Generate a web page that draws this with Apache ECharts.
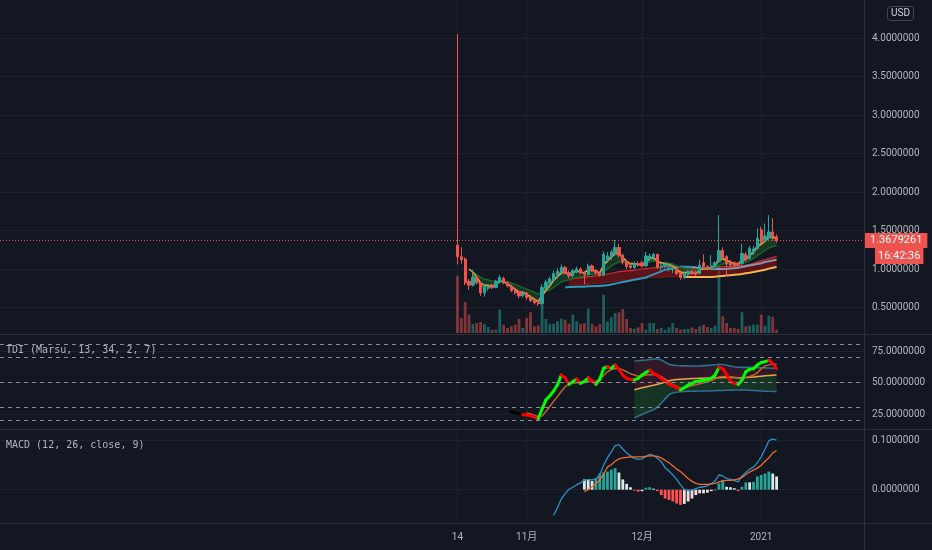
<!DOCTYPE html>
<html><head><meta charset="utf-8">
<script src="https://cdn.jsdelivr.net/npm/echarts@6/dist/echarts.min.js"></script>
<style>html,body{margin:0;padding:0;background:#131722;}#c{width:932px;height:550px;}</style>
</head><body><div id="c"></div>
<script>
// ---------- axis / categories ----------
const firstDay = '2020-10-14';
const tickDates = ['2020-10-14', '2020-11-01', '2020-12-01', '2021-01-01'];
const tickTexts = ['14', '11月', '12月', '2021'];
const lastPrice = 1.3679261;
const countdown = '16:42:36';

// ---------- daily candles (Oct 14 2020 -> Jan 5 2021) ----------
const open  = [1.31,1.16,1.13,0.84,0.79,0.89,0.81,0.69,0.75,0.78,0.76,0.83,0.88,0.82,0.78,0.72,0.70,0.65,0.69,0.63,0.59,0.57,0.55,0.75,0.82,0.86,0.93,0.96,1.02,0.95,0.91,0.97,1.00,0.95,0.93,1.04,0.98,0.95,0.92,1.12,1.16,1.21,1.28,1.18,1.09,1.04,1.02,1.07,1.08,1.04,1.13,1.16,1.19,1.02,1.04,1.03,0.99,1.00,0.94,0.89,0.93,0.97,0.95,0.94,1.08,1.03,1.00,1.04,1.10,1.24,1.16,1.08,1.08,1.07,1.07,1.19,1.14,1.22,1.27,1.51,1.38,1.41,1.48,1.42];
const high  = [4.05,1.28,1.15,0.87,0.99,0.92,0.83,0.79,0.80,0.81,0.86,0.92,0.90,0.84,0.80,0.76,0.72,0.71,0.70,0.66,0.62,0.60,0.80,0.86,0.90,0.98,1.01,1.06,1.04,0.98,1.00,1.03,1.02,0.97,1.07,1.06,1.00,0.97,1.23,1.22,1.25,1.38,1.33,1.20,1.12,1.08,1.10,1.10,1.11,1.22,1.20,1.21,1.20,1.06,1.09,1.06,1.03,1.02,0.96,0.97,0.99,0.99,0.98,1.12,1.19,1.05,1.18,1.10,1.70,1.28,1.18,1.12,1.10,1.09,1.33,1.22,1.30,1.30,1.53,1.55,1.59,1.70,1.66,1.45];
const low   = [1.06,1.07,0.79,0.73,0.77,0.80,0.65,0.64,0.72,0.74,0.75,0.81,0.80,0.76,0.70,0.67,0.62,0.63,0.60,0.57,0.54,0.52,0.54,0.72,0.78,0.83,0.88,0.92,0.93,0.88,0.89,0.94,0.93,0.80,0.92,0.96,0.93,0.90,0.91,1.08,1.12,1.18,1.15,1.06,1.00,1.00,1.00,1.03,1.02,1.03,1.10,1.11,1.00,0.98,1.01,0.97,0.95,0.92,0.86,0.87,0.91,0.92,0.91,0.93,1.01,0.98,0.99,1.02,1.08,1.12,0.90,1.02,1.02,1.03,1.05,1.10,1.12,1.18,1.25,1.33,1.35,1.38,1.37,1.34];
const close = [1.16,1.12,0.82,0.79,0.89,0.82,0.69,0.76,0.78,0.76,0.84,0.89,0.82,0.78,0.72,0.69,0.65,0.69,0.63,0.59,0.56,0.55,0.76,0.83,0.87,0.94,0.97,1.02,0.95,0.91,0.98,1.00,0.95,0.93,1.04,0.98,0.95,0.92,1.19,1.17,1.22,1.28,1.18,1.09,1.03,1.02,1.07,1.05,1.04,1.17,1.17,1.19,1.02,1.04,1.06,1.04,1.01,0.94,0.89,0.94,0.97,0.94,0.93,1.05,1.03,1.00,1.04,1.08,1.24,1.15,1.07,1.05,1.04,1.05,1.20,1.13,1.27,1.26,1.40,1.36,1.43,1.48,1.42,1.3679261];
const volume = [573,150,310,183,90,100,110,90,60,33,33,233,83,50,67,83,140,50,150,207,67,77,440,140,93,93,117,143,133,93,183,117,93,100,243,93,67,90,383,117,157,200,207,240,140,50,43,57,100,33,100,100,40,50,33,57,100,50,33,40,40,57,40,67,83,60,50,73,670,167,100,50,50,40,207,67,73,83,83,183,73,173,160,33];

// ---------- moving-average ribbons on the price pane ----------
const orangeLine = [null,null,null,1.00,0.96,0.90,0.82,0.79,0.79,0.78,0.80,0.84,0.83,0.81,0.77,0.74,0.70,0.70,0.67,0.64,0.61,0.58,0.65,0.72,0.78,0.85,0.90,0.95,0.95,0.93,0.95,0.97,0.96,0.95,0.99,0.98,0.97,0.95,1.05,1.10,1.15,1.20,1.19,1.15,1.10,1.07,1.07,1.06,1.05,1.10,1.13,1.15,1.10,1.08,1.07,1.06,1.04,1.00,0.96,0.95,0.96,0.95,0.94,0.99,1.00,1.00,1.02,1.04,1.12,1.13,1.11,1.09,1.07,1.06,1.12,1.12,1.18,1.21,1.29,1.32,1.36,1.41,1.41,1.40];
const greenFast = [null,null,null,null,0.92,0.87,0.78,0.77,0.775,0.77,0.80,0.85,0.83,0.81,0.76,0.73,0.69,0.69,0.66,0.62,0.59,0.57,0.67,0.75,0.81,0.87,0.92,0.97,0.96,0.94,0.96,0.98,0.96,0.95,1.00,0.99,0.97,0.94,1.07,1.12,1.17,1.22,1.20,1.15,1.09,1.05,1.06,1.06,1.05,1.11,1.14,1.16,1.09,1.07,1.06,1.05,1.03,0.99,0.94,0.94,0.95,0.95,0.94,0.99,1.01,1.01,1.02,1.05,1.15,1.15,1.11,1.08,1.06,1.06,1.13,1.13,1.20,1.23,1.31,1.34,1.38,1.43,1.43,1.40];
const greenSlow = [null,null,null,null,0.95,0.93,0.89,0.87,0.86,0.845,0.84,0.85,0.845,0.835,0.82,0.80,0.78,0.76,0.74,0.72,0.70,0.675,0.69,0.71,0.73,0.76,0.795,0.83,0.85,0.86,0.875,0.89,0.90,0.905,0.925,0.935,0.935,0.935,0.97,1.00,1.035,1.07,1.09,1.09,1.08,1.07,1.07,1.065,1.06,1.08,1.09,1.105,1.095,1.085,1.08,1.075,1.065,1.045,1.02,1.01,1.005,0.995,0.985,0.995,1.00,1.00,1.005,1.015,1.05,1.065,1.065,1.065,1.06,1.06,1.08,1.085,1.11,1.135,1.175,1.205,1.24,1.275,1.295,1.305];
const redHi = [null,null,null,null,null,null,null,null,null,null,null,null,null,null,null,null,null,null,null,null,null,null,null,null,null,null,null,null,null,0.87,0.875,0.88,0.885,0.89,0.90,0.905,0.91,0.915,0.925,0.935,0.945,0.955,0.965,0.97,0.975,0.98,0.985,0.99,1.0,1.005,1.01,1.015,1.02,1.025,1.03,1.03,1.03,1.03,1.025,1.02,1.015,1.01,1.01,1.01,1.01,1.01,1.01,1.015,1.025,1.03,1.03,1.03,1.035,1.04,1.045,1.05,1.06,1.075,1.09,1.105,1.12,1.135,1.15,1.16];
const redLo = [null,null,null,null,null,null,null,null,null,null,null,null,null,null,null,null,null,null,null,null,null,null,null,null,null,null,null,null,null,0.79,0.79,0.795,0.795,0.80,0.80,0.805,0.81,0.815,0.82,0.83,0.835,0.84,0.85,0.855,0.86,0.865,0.87,0.875,0.88,0.885,0.89,0.89,0.895,0.895,0.90,0.90,0.90,0.90,0.90,0.90,0.90,0.90,0.90,0.90,0.90,0.90,0.90,0.905,0.91,0.915,0.92,0.925,0.93,0.935,0.94,0.95,0.955,0.965,0.975,0.985,0.995,1.01,1.02,1.03];
const blueLine = [null,null,null,null,null,null,null,null,null,null,null,null,null,null,null,null,null,null,null,null,null,null,null,null,null,null,null,null,0.76,0.765,0.765,0.77,0.77,0.77,0.775,0.775,0.78,0.78,0.785,0.79,0.80,0.81,0.82,0.83,0.84,0.85,0.86,0.87,0.88,0.89,0.91,0.93,0.95,0.97,0.99,1.00,1.01,1.02,1.03,1.03,1.03,1.025,1.02,1.01,1.01,1.0,1.0,1.0,1.0,1.0,1.0,1.005,1.01,1.015,1.025,1.035,1.045,1.055,1.065,1.075,1.09,1.10,1.11,1.12];
const yellowLine = [null,null,null,null,null,null,null,null,null,null,null,null,null,null,null,null,null,null,null,null,null,null,null,null,null,null,null,null,null,null,null,null,null,null,null,null,null,null,null,null,null,null,null,null,null,null,null,null,null,null,null,null,null,null,null,null,null,null,null,0.895,0.895,0.895,0.895,0.895,0.895,0.895,0.895,0.90,0.905,0.91,0.915,0.92,0.925,0.93,0.935,0.945,0.95,0.96,0.97,0.98,0.99,1.005,1.015,1.025];

// ---------- TDI (Marsu, 13, 34, 2, 7) ----------
const tdiPrice = [null,null,null,null,null,null,null,null,null,null,null,null,null,null,27.0,26.0,25.3,24.5,24.3,23.6,22.6,21.2,29.0,36.1,39.3,43.3,48.0,55.9,53.8,48.5,50.7,52.8,49.3,50.7,53.8,51.2,48.5,52.5,61.2,62.5,61.2,63.9,60.5,55.9,53.3,52.5,52.0,53.3,55.9,57.9,59.8,57.2,55.9,53.3,50.7,48.5,47.5,45.9,44.1,45.9,48.0,49.3,50.7,51.2,51.8,52.3,53.3,55.9,62.0,61.0,56.5,50.7,49.3,48.5,52.0,58.5,60.4,61.0,63.9,65.8,66.5,67.6,65.2,61.2];
const tdiSignal = [null,null,null,null,null,null,null,null,null,null,null,null,null,null,null,null,null,null,25.8,25.0,24.0,22.8,23.5,27.0,31.0,35.0,38.8,43.0,46.5,48.8,49.3,49.8,50.3,50.7,50.8,50.7,50.7,53.0,55.5,58.5,60.2,61.0,61.2,60.0,58.5,57.0,55.9,55.0,55.0,55.9,56.2,56.4,55.8,54.6,52.6,50.6,48.4,46.8,45.4,45.6,46.5,47.5,48.2,49.0,49.8,50.5,51.6,53.0,54.4,54.8,54.7,54.6,54.0,53.5,53.3,54.0,54.8,55.7,57.8,60.8,63.2,64.0,64.4,64.5];
const bbUp = [null,null,null,null,null,null,null,null,null,null,null,null,null,null,null,null,null,null,null,null,null,null,null,null,null,null,null,null,null,null,null,null,null,null,null,null,null,null,null,null,null,null,null,null,null,null,67.1,67.3,67.6,67.9,68.3,68.6,68.7,67.8,66.2,64.5,63.8,63.5,63.3,63.2,63.1,63.1,63.1,63.2,63.4,63.6,63.8,64.1,64.4,64.3,63.7,63.0,62.5,62.1,62.0,62.0,62.0,61.9,61.8,61.7,61.6,61.5,61.3,61.2];
const bbMid = [null,null,null,null,null,null,null,null,null,null,null,null,null,null,null,null,null,null,null,null,null,null,null,null,null,null,null,null,null,null,null,null,null,null,null,null,null,null,null,null,null,null,null,null,null,null,44.3,45.0,45.8,46.5,47.2,47.9,48.6,49.4,50.4,51.4,52.0,52.4,52.6,52.8,53.0,53.1,53.2,53.3,53.4,53.5,53.6,53.7,53.8,53.9,53.9,53.9,53.9,53.8,53.8,53.9,54.1,54.4,54.7,55.0,55.3,55.6,55.8,55.9];
const bbLo = [null,null,null,null,null,null,null,null,null,null,null,null,null,null,null,null,null,null,null,null,null,null,null,null,null,null,null,null,null,null,null,null,null,null,null,null,null,null,null,null,null,null,null,null,null,null,22.1,23.3,24.6,25.9,27.1,28.4,30.5,33.5,37.0,40.2,41.6,42.2,42.7,42.9,43.0,43.1,43.1,43.2,43.3,43.3,43.4,43.5,43.6,43.7,43.8,43.9,44.0,44.1,44.1,44.0,43.9,43.7,43.5,43.3,43.1,43.0,42.9,42.8];
const tdiLevels = [80, 70, 50, 30, 20];

// ---------- MACD (12, 26, close, 9) ----------
const macdLine = [null,null,null,null,null,null,null,null,null,null,null,null,null,null,null,null,null,null,null,null,null,null,null,null,null,-0.052,-0.037,-0.019,-0.008,0.001,0.005,0.010,0.014,0.019,0.021,0.020,0.022,0.030,0.050,0.065,0.077,0.090,0.092,0.083,0.075,0.069,0.064,0.062,0.063,0.068,0.072,0.070,0.064,0.057,0.045,0.038,0.030,0.021,0.010,0.000,-0.002,-0.001,0.002,0.005,0.006,0.008,0.012,0.018,0.030,0.028,0.023,0.021,0.019,0.016,0.028,0.035,0.042,0.046,0.055,0.067,0.083,0.100,0.103,0.101];
const macdSignal = [null,null,null,null,null,null,null,null,null,null,null,null,null,null,null,null,null,null,null,null,null,null,null,null,null,null,null,null,null,null,null,null,null,-0.004,0.000,0.006,0.012,0.020,0.032,0.046,0.051,0.058,0.063,0.065,0.066,0.067,0.067,0.067,0.067,0.068,0.069,0.069,0.068,0.065,0.060,0.055,0.049,0.042,0.037,0.030,0.023,0.017,0.013,0.011,0.011,0.011,0.012,0.013,0.016,0.018,0.019,0.019,0.020,0.022,0.025,0.031,0.036,0.040,0.044,0.050,0.058,0.065,0.075,0.080];
const macdHist = [null,null,null,null,null,null,null,null,null,null,null,null,null,null,null,null,null,null,null,null,null,null,null,null,null,null,null,null,null,null,null,null,null,0.021,0.020,0.018,0.023,0.033,0.035,0.037,0.041,0.044,0.035,0.021,0.012,0.005,-0.002,-0.004,-0.003,0.004,0.005,0.002,-0.003,-0.011,-0.018,-0.021,-0.024,-0.028,-0.031,-0.029,-0.024,-0.018,-0.011,-0.0075,-0.0075,-0.006,-0.003,-0.001,0.013,0.020,0.006,0.005,0.003,-0.003,0.006,0.015,0.015,0.016,0.027,0.030,0.033,0.037,0.033,0.027];

// ---------- build ----------
const N = 226, padBefore = 119;
const base = Date.UTC(2020, 9, 14);
const categories = [];
for (let i = 0; i < N; i++) categories.push(new Date(base + (i - padBefore) * 86400000).toISOString().slice(0, 10));
const xi = k => padBefore + k;
const pts = arr => arr.map((v, k) => v == null ? null : [xi(k), v]).filter(Boolean);
const diffPts = (hi, lo) => hi.map((v, k) => (v == null || lo[k] == null) ? null : [xi(k), +(v - lo[k]).toFixed(5)]).filter(Boolean);
const greenHi = greenFast.map((v, k) => v == null ? null : Math.max(v, greenSlow[k]));
const greenLo = greenFast.map((v, k) => v == null ? null : Math.min(v, greenSlow[k]));
const blueA = blueLine.map((v, k) => k <= 61 ? v : null);
const blueB = blueLine.map((v, k) => k >= 61 ? v : null);

const UP = '#26a69a', DOWN = '#ef5350';
const candleData = open.map((o, k) => [xi(k), o, close[k], low[k], high[k]]);
const volData = volume.map((v, k) => ({ value: [xi(k), v], itemStyle: { color: close[k] >= open[k] ? 'rgba(38,166,154,0.5)' : 'rgba(239,83,80,0.5)' } }));

const segColors = ['#000000', '#00ff00', '#ff0000'];
const tdiSegs = [];
for (let k = 1; k < tdiPrice.length; k++) {
  if (tdiPrice[k] == null || tdiPrice[k - 1] == null) continue;
  const code = tdiSignal[k] == null ? 0 : (tdiPrice[k] >= tdiPrice[k - 1] ? 1 : 2);
  tdiSegs.push([xi(k), tdiPrice[k - 1], tdiPrice[k], code]);
}

const histData = [];
let prevH = null;
macdHist.forEach((h, k) => {
  if (h == null) return;
  const p = prevH == null ? h : prevH;
  let c;
  if (h >= 0) c = h > p ? '#26a69a' : '#d8ece7';
  else c = h < p ? '#ff5252' : '#f3dede';
  histData.push({ value: [xi(k), h], itemStyle: { color: c } });
  prevH = h;
});

const axisFont = 'Roboto, "Noto Sans CJK JP", sans-serif';
const gridLine = '#1e222d';
const hiddenX = g => ({ gridIndex: g, type: 'category', data: categories, boundaryGap: false, show: false });
const rightY = (g, min, max, interval) => ({
  gridIndex: g, type: 'value', position: 'right', min, max, interval,
  axisLine: { show: false }, axisTick: { show: false },
  axisLabel: { color: '#b2b5be', fontSize: 10, fontFamily: axisFont, margin: 7, showMinLabel: false, showMaxLabel: false, formatter: v => v.toFixed(7) },
  splitLine: { show: true, showMinLine: false, showMaxLine: false, lineStyle: { color: gridLine, width: 1 } }
});
const line = (name, data, xa, ya, color, width, z, extra) => Object.assign({
  name, type: 'line', data, xAxisIndex: xa, yAxisIndex: ya, symbol: 'none', showSymbol: false, silent: true,
  lineStyle: { color, width }, z: z || 3
}, extra || {});

const option = {
  backgroundColor: '#131722',
  animation: false,
  title: [
    { text: 'TDI (Marsu, 13, 34, 2, 7)', left: 6, top: 345, padding: 0, textStyle: { fontFamily: '"DejaVu Sans Mono", monospace', fontSize: 10, fontWeight: 'normal', color: '#b2b5be' } },
    { text: 'MACD (12, 26, close, 9)', left: 6, top: 440, padding: 0, textStyle: { fontFamily: '"DejaVu Sans Mono", monospace', fontSize: 10, fontWeight: 'normal', color: '#b2b5be' } },
    { text: 'USD', left: 887, top: 6, padding: [3, 4, 2, 4], borderColor: '#434651', borderWidth: 1, borderRadius: 3, textStyle: { fontFamily: axisFont, fontSize: 10, fontWeight: 'normal', color: '#d1d4dc' } }
  ],
  graphic: [
    { type: 'line', shape: { x1: 0, y1: 334.5, x2: 932, y2: 334.5 }, style: { stroke: '#2a2e39', lineWidth: 1 }, silent: true, z: 10 },
    { type: 'line', shape: { x1: 0, y1: 429.5, x2: 932, y2: 429.5 }, style: { stroke: '#2a2e39', lineWidth: 1 }, silent: true, z: 10 },
    { type: 'line', shape: { x1: 0, y1: 523.5, x2: 932, y2: 523.5 }, style: { stroke: '#2a2e39', lineWidth: 1 }, silent: true, z: 10 },
    { type: 'line', shape: { x1: 864.5, y1: 0, x2: 864.5, y2: 550 }, style: { stroke: '#2a2e39', lineWidth: 1 }, silent: true, z: 10 }
  ],
  grid: [
    { left: 0, right: 67, top: 0, height: 346 },
    { left: 0, right: 67, top: 133, height: 200 },
    { left: 0, right: 67, top: 319.5, height: 126 },
    { left: 0, right: 67, top: 416.2, height: 122.5 },
    { left: 0, right: 67, top: 0, height: 523 }
  ],
  xAxis: [
    hiddenX(0), hiddenX(1), hiddenX(2), hiddenX(3),
    { gridIndex: 4, type: 'category', data: categories, boundaryGap: false,
      axisLine: { show: false }, axisTick: { show: false },
      axisLabel: { interval: (i, v) => tickDates.includes(v), formatter: v => tickTexts[tickDates.indexOf(v)], color: '#b2b5be', fontSize: 10, fontFamily: axisFont, margin: 9 },
      splitLine: { show: true, interval: (i, v) => tickDates.includes(v), lineStyle: { color: gridLine, width: 1 } } }
  ],
  yAxis: [
    rightY(0, 0, 346 / 77, 0.5),
    { gridIndex: 1, type: 'value', min: 0, max: 2000, show: false },
    rightY(2, 0, 100, 25),
    rightY(3, -0.1, 0.15, 0.1),
    { gridIndex: 4, type: 'value', show: false }
  ],
  series: [
    // volume
    { name: 'Volume', type: 'bar', xAxisIndex: 1, yAxisIndex: 1, data: volData, barWidth: 2.8, silent: true, z: 1 },
    // long-term red ribbon
    line('redBase', pts(redLo), 0, 0, 'transparent', 0, 2, { stack: 'red', lineStyle: { opacity: 0 } }),
    line('redFill', diffPts(redHi, redLo), 0, 0, 'transparent', 0, 2, { stack: 'red', lineStyle: { opacity: 0 }, areaStyle: { color: 'rgba(140,16,20,0.85)' } }),
    line('redHi', pts(redHi), 0, 0, '#d32f2f', 1.2),
    line('redLo', pts(redLo), 0, 0, '#7a1414', 1.2),
    line('blueA', pts(blueA), 0, 0, '#2f97be', 2),
    line('blueB', pts(blueB), 0, 0, '#8796ab', 2),
    line('yellow', pts(yellowLine), 0, 0, '#f2b24f', 2),
    // short-term green ribbon
    line('grnBase', pts(greenLo), 0, 0, 'transparent', 0, 2, { stack: 'grn', lineStyle: { opacity: 0 } }),
    line('grnFill', diffPts(greenHi, greenLo), 0, 0, 'transparent', 0, 2, { stack: 'grn', lineStyle: { opacity: 0 }, areaStyle: { color: 'rgba(24,105,40,0.6)' } }),
    line('greenFast', pts(greenFast), 0, 0, '#2f9a3e', 1.3),
    line('greenSlow', pts(greenSlow), 0, 0, '#1b6a2a', 1.3),
    line('orange', pts(orangeLine), 0, 0, '#f0913c', 1.5),
    // candles
    { name: 'Price', type: 'candlestick', xAxisIndex: 0, yAxisIndex: 0, data: candleData, encode: { x: 0, y: [1, 2, 3, 4] },
      barWidth: 2.8, silent: true, z: 5,
      itemStyle: { color: UP, color0: DOWN, borderColor: UP, borderColor0: DOWN, borderWidth: 1 },
      markLine: { symbol: 'none', silent: true, animation: false,
        lineStyle: { color: '#ef5350', type: [1, 2], width: 1 },
        data: [{ yAxis: lastPrice }],
        label: { show: true, position: 'end', distance: -1,
          formatter: '{e| }\n{p|' + lastPrice.toFixed(7) + '}\n{s| }{t|' + countdown + '}',
          rich: {
            e: { height: 16, lineHeight: 16, fontSize: 10 },
            p: { backgroundColor: '#ef5350', color: '#ffffff', fontSize: 11, fontFamily: axisFont, height: 15, lineHeight: 15, padding: [0, 5, 0, 6] },
            s: { width: 11, fontSize: 10, lineHeight: 16 },
            t: { backgroundColor: '#ef5350', color: '#ffffff', fontSize: 11, fontFamily: axisFont, height: 16, lineHeight: 16, padding: [0, 3, 0, 3] }
          } } } },
    // TDI
    line('bbBase', pts(bbLo), 2, 2, 'transparent', 0, 2, { stack: 'bb', lineStyle: { opacity: 0 } }),
    line('bbLowFill', diffPts(bbMid, bbLo), 2, 2, 'transparent', 0, 2, { stack: 'bb', lineStyle: { opacity: 0 }, areaStyle: { color: 'rgba(24,80,38,0.75)' } }),
    line('bbHighFill', diffPts(bbUp, bbMid), 2, 2, 'transparent', 0, 2, { stack: 'bb', lineStyle: { opacity: 0 }, areaStyle: { color: 'rgba(80,26,42,0.7)' } }),
    line('bbUp', pts(bbUp), 2, 2, '#2f6f92', 1.6),
    line('bbLo', pts(bbLo), 2, 2, '#2f6f92', 1.6),
    line('bbMid', pts(bbMid), 2, 2, '#f0a24a', 1.5),
    line('tdiSignal', pts(tdiSignal), 2, 2, '#bf632f', 1.5, 3, {
      markLine: { symbol: 'none', silent: true, animation: false, label: { show: false },
        lineStyle: { color: '#8a8d97', type: [4, 4], width: 1 },
        data: tdiLevels.map(v => ({ yAxis: v })) } }),
    { name: 'tdiPrice', type: 'custom', xAxisIndex: 2, yAxisIndex: 2, data: tdiSegs, silent: true, z: 4,
      encode: { x: 0, y: [1, 2] },
      renderItem: (params, api) => {
        const i = api.value(0);
        const p0 = api.coord([i - 1, api.value(1)]);
        const p1 = api.coord([i, api.value(2)]);
        return { type: 'line', shape: { x1: p0[0], y1: p0[1], x2: p1[0], y2: p1[1] },
          style: { stroke: segColors[api.value(3)], lineWidth: 3, lineCap: 'round' } };
      } },
    // MACD
    { name: 'Histogram', type: 'bar', xAxisIndex: 3, yAxisIndex: 3, data: histData, barWidth: 2.8, silent: true, z: 2 },
    line('MACD', pts(macdLine), 3, 3, '#2c8fc6', 1.3),
    line('Signal', pts(macdSignal), 3, 3, '#ef6a2c', 1.3)
  ]
};
const chart = echarts.init(document.getElementById('c'), null, { renderer: 'canvas' });
chart.setOption(option);
</script></body></html>
